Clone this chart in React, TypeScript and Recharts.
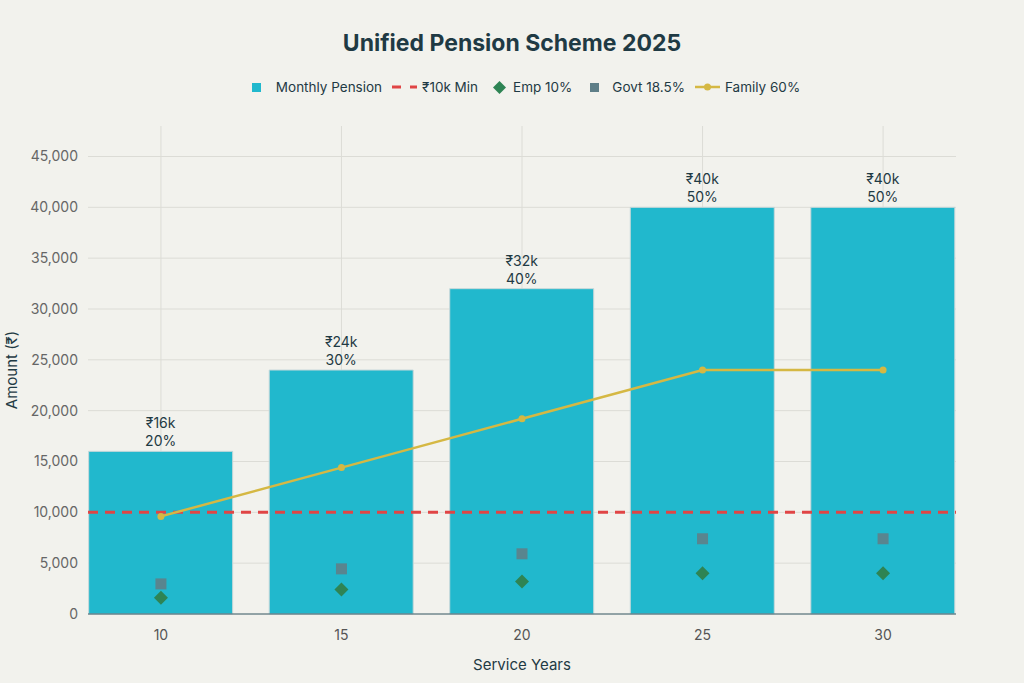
import React from 'react';
import {
  ComposedChart,
  Bar,
  Line,
  Scatter,
  XAxis,
  YAxis,
  CartesianGrid,
  ReferenceLine,
  LabelList,
} from 'recharts';

const years = [10, 15, 20, 25, 30];
const monthlyPension = [16000, 24000, 32000, 40000, 40000];
const pensionPct = ['20%', '30%', '40%', '50%', '50%'];
const empContribution = [1600, 2400, 3200, 4000, 4000];
const govtContribution = [2960, 4440, 5920, 7400, 7400];
const familyPension = [9600, 14400, 19200, 24000, 24000];
const minPension = 10000;
const yTicks = [0, 5000, 10000, 15000, 20000, 25000, 30000, 35000, 40000, 45000];

const data = years.map((y, i) => ({
  year: y,
  pension: monthlyPension[i],
  emp: empContribution[i],
  govt: govtContribution[i],
  family: familyPension[i],
}));

const BG = '#f2f2ed';
const TEXT = '#1f3a44';
const CYAN = '#21b8cd';
const RED = '#e04545';
const GREEN = '#2e8454';
const SLATE = '#5f7f88';
const GOLD = '#d5b843';

const FONT = 'Inter, "Noto Sans", sans-serif';

const BarLabel = (props: any) => {
  const { x, y, width, index } = props;
  const cx = x + width / 2;
  const v = monthlyPension[index];
  return (
    <g>
      <text x={cx} y={y - 23} textAnchor="middle" fill={TEXT} fontSize={14} fontFamily={FONT}>
        {`₹${v / 1000}k`}
      </text>
      <text x={cx} y={y - 5} textAnchor="middle" fill={TEXT} fontSize={14} fontFamily={FONT}>
        {pensionPct[index]}
      </text>
    </g>
  );
};

const YLabel = (props: any) => {
  const { viewBox } = props;
  const cy = viewBox.y + viewBox.height / 2;
  return (
    <text x={17} y={cy} transform={`rotate(-90, 17, ${cy})`} textAnchor="middle" fill={TEXT} fontSize={15} fontFamily={FONT}>
      Amount (₹)
    </text>
  );
};

const XLabel = (props: any) => {
  const { viewBox } = props;
  const cx = viewBox.x + viewBox.width / 2;
  return (
    <text x={cx} y={670} textAnchor="middle" fill={TEXT} fontSize={15} fontFamily={FONT}>
      Service Years
    </text>
  );
};

const Diamond = (props: any) => {
  const { cx, cy } = props;
  const r = 7;
  return <path d={`M${cx},${cy - r}L${cx + r},${cy}L${cx},${cy + r}L${cx - r},${cy}Z`} fill={GREEN} />;
};

const Square = (props: any) => {
  const { cx, cy } = props;
  const s = 11;
  return <rect x={cx - s / 2} y={cy - s / 2} width={s} height={s} fill={SLATE} fillOpacity={0.9} />;
};

const LegendContent = () => {
  const row = { display: 'flex', alignItems: 'center' } as React.CSSProperties;
  return (
    <div
      style={{
        ...row,
        justifyContent: 'center',
        fontFamily: FONT,
        fontSize: 13.5,
        color: TEXT,
      }}
    >
      <svg width={9} height={9} style={{ marginRight: 15 }}><rect width={9} height={9} fill={CYAN} /></svg>
      <span style={{ marginRight: 10 }}>Monthly Pension</span>
      <svg width={25} height={12} style={{ marginRight: 5 }}>
        <line x1={0} y1={6} x2={25} y2={6} stroke={RED} strokeWidth={3} strokeDasharray="9 9" />
      </svg>
      <span style={{ marginRight: 15 }}>₹10k Min</span>
      <svg width={13} height={13} style={{ marginRight: 7 }}><path d="M6.5,0L13,6.5L6.5,13L0,6.5Z" fill={GREEN} /></svg>
      <span style={{ marginRight: 18 }}>Emp 10%</span>
      <svg width={9} height={9} style={{ marginRight: 13 }}><rect width={9} height={9} fill={SLATE} /></svg>
      <span style={{ marginRight: 10 }}>Govt 18.5%</span>
      <svg width={25} height={12} style={{ marginRight: 5 }}>
        <line x1={0} y1={6} x2={25} y2={6} stroke={GOLD} strokeWidth={2.5} />
        <circle cx={12.5} cy={6} r={3.5} fill={GOLD} />
      </svg>
      <span>Family 60%</span>
    </div>
  );
};

export default function App() {
  return (
    <div
      style={{
        position: 'absolute',
        left: 0,
        top: 0,
        width: 1024,
        height: 683,
        background: BG,
        fontFamily: FONT,
      }}
    >
      <div
        style={{
          position: 'absolute',
          top: 29,
          width: 1024,
          textAlign: 'center',
          fontSize: 23,
          fontWeight: 700,
          color: TEXT,
        }}
      >
        Unified Pension Scheme 2025
      </div>
      <div
        style={{
          position: 'absolute',
          top: 79,
          left: 0,
          width: 1052,
        }}
      >
        <LegendContent />
      </div>
      <ComposedChart
        width={1024}
        height={683}
        data={data}
        margin={{ top: 126, right: 68, bottom: 39, left: 0 }}
      >
        <CartesianGrid stroke="#dcdcd6" verticalValues={years} horizontalValues={yTicks} />
        <XAxis
          dataKey="year"
          type="number"
          domain={[7.98, 32.02]}
          ticks={years}
          tickLine={false}
          axisLine={{ stroke: '#3c5f6a' }}
          tick={{ fill: '#555', fontSize: 14, fontFamily: FONT }}
          tickMargin={10}
          label={<XLabel />}
        />
        <YAxis
          width={88}
          domain={[0, 48000]}
          ticks={yTicks}
          tickLine={false}
          axisLine={false}
          tick={{ fill: '#666', fontSize: 14, fontFamily: FONT }}
          tickMargin={4}
          tickFormatter={(v: number) => v.toLocaleString('en-US')}
          label={<YLabel />}
        />
        <Bar
          dataKey="pension"
          name="Monthly Pension"
          fill={CYAN}
          stroke="#c8d8da"
          strokeWidth={1}
          barSize={144}
          isAnimationActive={false}
        >
          <LabelList dataKey="pension" content={<BarLabel />} />
        </Bar>
        <ReferenceLine y={minPension} stroke={RED} strokeWidth={3} strokeDasharray="10 7" />
        <Line
          dataKey="family"
          name="Family 60%"
          stroke={GOLD}
          strokeWidth={2.5}
          dot={{ r: 3.5, fill: GOLD, stroke: GOLD, strokeWidth: 0 }}
          isAnimationActive={false}
        />
        <Scatter dataKey="govt" name="Govt 18.5%" shape={<Square />} isAnimationActive={false} />
        <Scatter dataKey="emp" name="Emp 10%" shape={<Diamond />} isAnimationActive={false} />
      </ComposedChart>
    </div>
  );
}
